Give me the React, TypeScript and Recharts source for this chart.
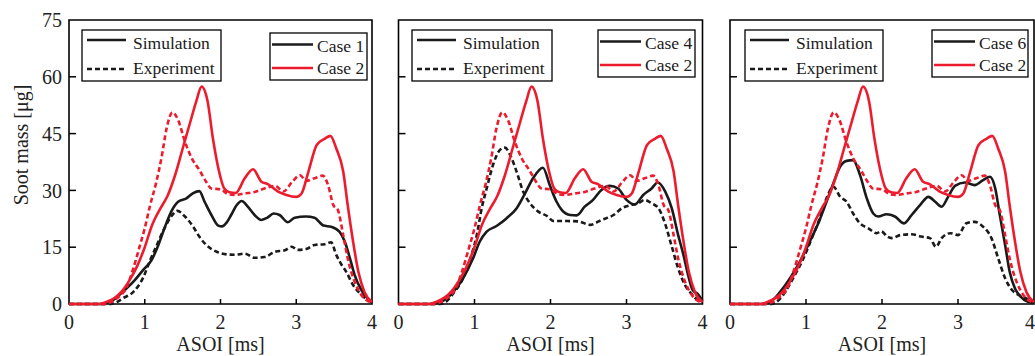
import { LineChart, Line, XAxis, YAxis, ReferenceArea, Label } from "recharts";

document.body.style.margin = "0";

const RED = "#ec1c2e";
const BLACK = "#1a1a1a";
const FONT = '"Liberation Serif", "Times New Roman", serif';

const xTicks = [0, 1, 2, 3, 4];
const yTicks = [0, 15, 30, 45, 60, 75];

// Case 2 (reference case, same in every panel)
const case2SimT = [0, 0.4, 0.5, 0.6, 0.7, 0.8, 0.9, 1.0, 1.1, 1.2, 1.3, 1.4, 1.5, 1.6, 1.68, 1.75, 1.83, 1.9, 1.97, 2.05, 2.12, 2.2, 2.32, 2.43, 2.54, 2.63, 2.76, 2.87, 3.0, 3.07, 3.16, 3.27, 3.38, 3.45, 3.53, 3.62, 3.68, 3.75, 3.82, 3.9, 4.0];
const case2SimV = [0, 0, 0.6, 1.6, 3.4, 6.3, 10, 15, 21, 25, 28.5, 34, 41, 48, 53.5, 57.4, 53.5, 43.7, 36, 30.5, 29.5, 29.3, 33.2, 35.6, 32.3, 31.6, 29.7, 28.8, 28.3, 29.2, 34.9, 42, 43.7, 44.4, 41, 35, 26, 16.5, 8.5, 3.2, 0.5];
const case2ExpT = [0, 0.45, 0.55, 0.65, 0.75, 0.85, 0.93, 1.0, 1.07, 1.15, 1.22, 1.29, 1.365, 1.44, 1.53, 1.62, 1.72, 1.81, 1.88, 2.0, 2.1, 2.19, 2.32, 2.45, 2.58, 2.72, 2.83, 2.94, 3.05, 3.13, 3.24, 3.35, 3.42, 3.49, 3.55, 3.62, 3.68, 3.77, 3.86, 4.0];
const case2ExpV = [0, 0, 0.5, 1.8, 4, 9.5, 15, 20, 26, 32, 38.5, 46.5, 50.6, 48.6, 42.9, 38.5, 35.4, 32.3, 30.5, 30.3, 29, 28.8, 29.2, 29.6, 30.5, 31.2, 29.7, 32.1, 34, 32.5, 33.2, 33.9, 31.4, 26.1, 24.8, 18.2, 12, 5.9, 2.4, 0.3];

// Case 1
const case1SimT = [0, 0.45, 0.5, 0.6, 0.71, 0.85, 0.98, 1.09, 1.18, 1.26, 1.35, 1.44, 1.55, 1.64, 1.72, 1.79, 1.88, 1.97, 2.02, 2.08, 2.14, 2.21, 2.28, 2.36, 2.45, 2.54, 2.62, 2.7, 2.78, 2.89, 2.98, 3.13, 3.24, 3.36, 3.46, 3.57, 3.64, 3.71, 3.77, 3.86, 3.95, 4.0];
const case1SimV = [0, 0, 0.3, 1.3, 3.2, 5.9, 9, 11.6, 15.6, 20, 24.4, 27, 27.9, 29.3, 29.8, 27, 23.5, 20.7, 20.5, 21.5, 23.5, 26, 27.2, 25.7, 23.5, 22.2, 22.8, 23.9, 23.5, 21.6, 22.8, 23.1, 22.8, 20.7, 20.4, 19.1, 16.5, 12, 7.7, 3.7, 1.3, 0.5];
const case1ExpT = [0, 0.55, 0.62, 0.71, 0.85, 0.98, 1.07, 1.15, 1.26, 1.35, 1.43, 1.53, 1.64, 1.72, 1.84, 1.95, 2.08, 2.19, 2.32, 2.45, 2.58, 2.72, 2.85, 2.94, 3.02, 3.13, 3.24, 3.38, 3.46, 3.53, 3.6, 3.66, 3.75, 3.84, 3.95, 4.0];
const case1ExpV = [0, 0, 0.4, 1.5, 3.2, 7, 11.5, 15.1, 20, 23.1, 24.6, 23.1, 20.4, 17.8, 15.1, 13.8, 13.1, 13, 13.3, 12.2, 12.4, 13.8, 14.2, 15.1, 14.3, 14.5, 15.6, 15.8, 16.3, 12.9, 10.3, 8.5, 5, 2.8, 1, 0.5];

// Case 4
const case4SimT = [0, 0.45, 0.5, 0.6, 0.72, 0.85, 0.98, 1.07, 1.16, 1.29, 1.42, 1.555, 1.665, 1.77, 1.9, 1.99, 2.08, 2.15, 2.26, 2.345, 2.45, 2.56, 2.67, 2.78, 2.89, 3.0, 3.11, 3.22, 3.33, 3.41, 3.51, 3.595, 3.68, 3.75, 3.81, 3.87, 3.94, 4.0];
const case4SimV = [0, 0, 0.2, 1, 3.2, 6.8, 12, 16.5, 19.1, 20.6, 22.6, 25.3, 29.2, 33.2, 36, 31.4, 27, 24.8, 23.5, 23.4, 25.7, 27.5, 30.1, 31.2, 30.5, 27.5, 26.3, 28.8, 30.5, 32.1, 29.7, 25.3, 18.2, 12.9, 7.7, 3.7, 2.6, 0.8];
const case4ExpT = [0, 0.55, 0.62, 0.72, 0.85, 0.96, 1.03, 1.095, 1.16, 1.25, 1.335, 1.4, 1.47, 1.555, 1.64, 1.73, 1.84, 1.95, 2.04, 2.23, 2.37, 2.52, 2.67, 2.83, 2.94, 3.05, 3.155, 3.24, 3.33, 3.42, 3.5, 3.59, 3.68, 3.77, 3.86, 3.94, 4.0];
const case4ExpV = [0, 0, 0.5, 2.8, 6.8, 12.9, 18.2, 25.3, 30.5, 37.1, 40.7, 41.3, 39.3, 34.9, 29.7, 26.6, 24.4, 23.3, 21.9, 21.9, 21.8, 20.9, 22.2, 23.5, 25.3, 26.1, 26.6, 27.5, 26.6, 25.3, 21.7, 15.6, 9.4, 5, 2.6, 1, 0.5];

// Case 6
const case6SimT = [0, 0.45, 0.55, 0.66, 0.79, 0.92, 1.05, 1.18, 1.27, 1.36, 1.45, 1.535, 1.62, 1.71, 1.8, 1.885, 1.95, 2.06, 2.17, 2.29, 2.39, 2.5, 2.61, 2.7, 2.785, 2.87, 2.96, 3.09, 3.22, 3.33, 3.42, 3.49, 3.55, 3.62, 3.68, 3.75, 3.82, 3.92, 4.0];
const case6SimV = [0, 0, 0.8, 3.2, 6.8, 11.2, 16.5, 22.2, 27, 31.9, 36.3, 37.8, 38, 34.1, 27.9, 23.9, 23.1, 23.7, 23.1, 21.3, 23.5, 26.1, 28.3, 27, 25.7, 28.3, 31.2, 32.1, 31.4, 32.7, 33.6, 30.5, 23.5, 15.6, 8.5, 4.1, 2, 0.6, 0.3];
const case6ExpT = [0, 0.55, 0.6, 0.7, 0.83, 0.965, 1.075, 1.18, 1.27, 1.36, 1.45, 1.535, 1.62, 1.71, 1.82, 1.93, 1.99, 2.07, 2.13, 2.24, 2.39, 2.52, 2.63, 2.71, 2.785, 2.9, 3.0, 3.11, 3.22, 3.33, 3.44, 3.53, 3.62, 3.71, 3.8, 3.89, 4.0];
const case6ExpV = [0, 0, 0.4, 2.4, 6.8, 12, 17.3, 22.6, 27.9, 31, 28.3, 27, 23.9, 21.3, 20, 18.7, 19.2, 17.8, 17.4, 18.2, 18.4, 17.8, 17.4, 15.1, 17.4, 18.7, 18.2, 21.3, 21.7, 20.4, 17.4, 12, 6.8, 3.7, 2.4, 1.5, 0.8];

const zip = (t: number[], v: number[]) => t.map((x, i) => ({ t: x, v: v[i] }));

const case2Sim = zip(case2SimT, case2SimV);
const case2Exp = zip(case2ExpT, case2ExpV);

// axis boxes are 10px; margins + 10 give the plot edges
const AX = 10;

const panels = [
  {
    name: "Case 1", sim: zip(case1SimT, case1SimV), exp: zip(case1ExpT, case1ExpV),
    left: 0, width: 380, plotLeft: 69, plotRight: 372, showY: true, lastAtEdge: false,
    leftBox: { x: 82, y: 30, w: 139 }, rightBox: { x: 270, y: 33, w: 97 },
  },
  {
    name: "Case 4", sim: zip(case4SimT, case4SimV), exp: zip(case4ExpT, case4ExpV),
    left: 380, width: 330, plotLeft: 18.5, plotRight: 322.5, showY: false, lastAtEdge: false,
    leftBox: { x: 412, y: 30, w: 140 }, rightBox: { x: 598, y: 30, w: 97 },
  },
  {
    name: "Case 6", sim: zip(case6SimT, case6SimV), exp: zip(case6ExpT, case6ExpV),
    left: 710, width: 325, plotLeft: 20, plotRight: 324, showY: false, lastAtEdge: true,
    leftBox: { x: 745, y: 30, w: 138 }, rightBox: { x: 932, y: 30, w: 96 },
  },
];

// the last panel ends at the page edge, so its "4" is pulled inside
const makeXTick = (atEdge: boolean) => (props: any) => {
  const { x, y, payload } = props;
  const v = payload.value;
  const edge = atEdge && v === 4;
  return (
    <g>
      {v > 0 && v < 4 && <line x1={x} x2={x} y1={y} y2={y - 5} stroke="#000" strokeWidth={1.5} />}
      <text
        x={edge ? x + 1 : x}
        y={y + 11}
        dy="0.71em"
        textAnchor={edge ? "end" : "middle"}
        fontSize={20}
        fontFamily={FONT}
        fill="#222"
      >
        {v}
      </text>
    </g>
  );
};

const makeYTick = (labels: boolean) => (props: any) => {
  const { x, y, payload } = props;
  const v = payload.value;
  return (
    <g>
      {v > 0 && v < 75 && <line x1={x} x2={x + 7} y1={y} y2={y} stroke="#000" strokeWidth={1.5} />}
      {labels && (
        <text x={x - 7} y={y} dy="0.355em" textAnchor="end" fontSize={20} fontFamily={FONT} fill="#222">
          {v}
        </text>
      )}
    </g>
  );
};

function Legends() {
  return (
    <svg width={1035} height={356} style={{ position: "absolute", left: 0, top: 0, pointerEvents: "none" }}>
      {panels.map((p) => {
        const L = p.leftBox;
        const R = p.rightBox;
        return (
          <g key={p.name} fontFamily={FONT} fontSize={17.5} fill="#1a1a1a">
            <rect x={L.x} y={L.y} width={L.w} height={51} fill="#fff" stroke="#000" strokeWidth={1.3} />
            <line x1={L.x + 5} x2={L.x + 44} y1={L.y + 10} y2={L.y + 10} stroke={BLACK} strokeWidth={2.6} />
            <text x={L.x + 51} y={L.y + 18.5}>Simulation</text>
            <line x1={L.x + 5} x2={L.x + 44} y1={L.y + 39} y2={L.y + 39} stroke={BLACK} strokeWidth={2.6} strokeDasharray="5 3" />
            <text x={L.x + 51} y={L.y + 43.5}>Experiment</text>

            <rect x={R.x} y={R.y} width={R.w} height={47} fill="#fff" stroke="#000" strokeWidth={1.3} />
            <line x1={R.x + 2} x2={R.x + 43} y1={R.y + 11.5} y2={R.y + 11.5} stroke={BLACK} strokeWidth={2.6} />
            <text x={R.x + 47} y={R.y + 19}>{p.name}</text>
            <line x1={R.x + 2} x2={R.x + 43} y1={R.y + 35} y2={R.y + 35} stroke={RED} strokeWidth={2.6} />
            <text x={R.x + 47} y={R.y + 40.7}>Case 2</text>
          </g>
        );
      })}
    </svg>
  );
}

export default function App() {
  return (
    <div style={{ position: "relative", width: 1035, height: 356, overflow: "hidden", background: "#fff" }}>
      {panels.map((p) => {
        const margin = { top: 20, bottom: 52 - AX, left: p.plotLeft - AX, right: p.width - p.plotRight };
        const cx = (p.plotLeft + p.plotRight) / 2;
        return (
          <div key={p.name} style={{ position: "absolute", left: p.left, top: 0 }}>
            <LineChart width={p.width} height={356} margin={margin}>
              <XAxis
                type="number"
                dataKey="t"
                domain={[0, 4]}
                ticks={xTicks}
                interval={0}
                height={AX}
                tickSize={0}
                tickMargin={0}
                tickLine={false}
                axisLine={false}
                tick={makeXTick(p.lastAtEdge)}
              >
                <Label
                  content={() => (
                    <text x={cx} y={351} textAnchor="middle" fontSize={20} fontFamily={FONT} fill="#222">
                      ASOI [ms]
                    </text>
                  )}
                />
              </XAxis>
              <YAxis
                type="number"
                dataKey="v"
                domain={[0, 75]}
                ticks={yTicks}
                interval={0}
                width={AX}
                tickSize={0}
                tickMargin={0}
                tickLine={false}
                axisLine={false}
                tick={makeYTick(p.showY)}
              >
                {p.showY && (
                  <Label
                    content={() => (
                      <text
                        x={20.5}
                        y={145}
                        dy="0.355em"
                        transform="rotate(-90 20.5 145)"
                        textAnchor="middle"
                        fontSize={20}
                        fontFamily={FONT}
                        fill="#222"
                      >
                        Soot mass [μg]
                      </text>
                    )}
                  />
                )}
              </YAxis>
              <ReferenceArea x1={0} x2={4} y1={0} y2={75} fill="none" stroke="#000" strokeWidth={1.6} />
              <Line data={p.exp} dataKey="v" type="monotone" stroke={BLACK} strokeWidth={2.6} strokeDasharray="5 3" dot={false} isAnimationActive={false} />
              <Line data={p.sim} dataKey="v" type="monotone" stroke={BLACK} strokeWidth={2.6} dot={false} isAnimationActive={false} />
              <Line data={case2Exp} dataKey="v" type="monotone" stroke={RED} strokeWidth={2.6} strokeDasharray="5 3" dot={false} isAnimationActive={false} />
              <Line data={case2Sim} dataKey="v" type="monotone" stroke={RED} strokeWidth={2.6} dot={false} isAnimationActive={false} />
            </LineChart>
          </div>
        );
      })}
      <Legends />
    </div>
  );
}
